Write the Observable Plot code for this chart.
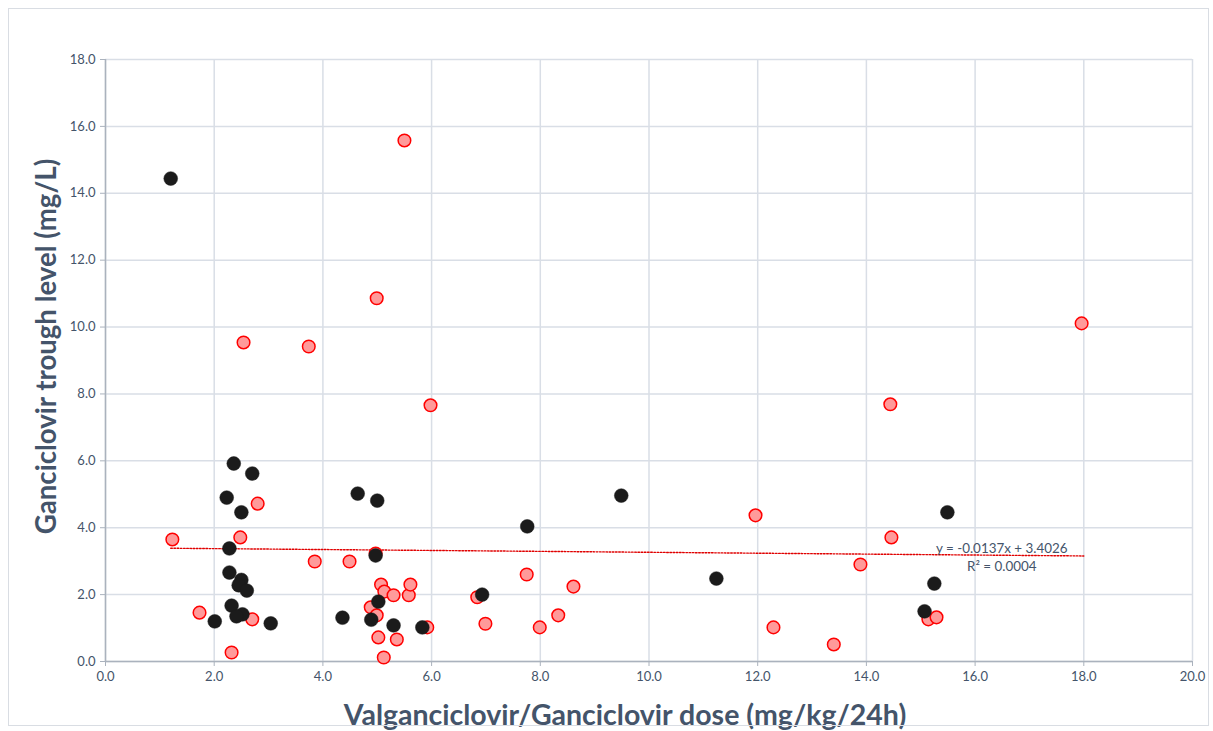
<!DOCTYPE html>
<html>
<head>
<meta charset="utf-8">
<script src="https://cdn.jsdelivr.net/npm/d3@7"></script>
<script src="https://cdn.jsdelivr.net/npm/@observablehq/plot@0.6"></script>
<style>
  html, body { margin: 0; padding: 0; background: #fff; }
  #wrap { position: relative; width: 1213px; height: 731px; overflow: hidden; }
  #border { position: absolute; left: 8px; top: 8px; width: 1201px; height: 718px; border: 1px solid #d9dde3; box-sizing: border-box; pointer-events: none; }
  #chart { position: absolute; left: 0; top: 0; }
</style>
</head>
<body>
<div id="wrap">
  <div id="chart"></div>
  <div id="border"></div>
</div>
<script>
// Group A (black markers)
const blackX = [1.20, 2.36, 2.70, 2.23, 2.50, 2.28, 2.28, 2.50, 2.45, 2.60, 2.32, 2.52, 2.41, 2.01, 3.04,
                4.36, 4.64, 5.00, 4.97, 5.02, 4.89, 5.30, 5.83, 6.93, 7.76, 9.49, 11.24, 15.49, 15.25, 15.07];
const blackY = [14.44, 5.92, 5.62, 4.90, 4.46, 3.38, 2.66, 2.44, 2.28, 2.12, 1.67, 1.41, 1.35, 1.20, 1.14,
                1.31, 5.02, 4.81, 3.17, 1.79, 1.25, 1.08, 1.02, 2.00, 4.04, 4.96, 2.48, 4.46, 2.33, 1.50];
// Group B (red markers)
const redX = [1.23, 1.73, 2.32, 2.48, 2.54, 2.70, 2.80, 3.74, 3.85, 4.49, 4.88, 4.97, 4.99, 4.99, 5.02, 5.07,
              5.12, 5.13, 5.30, 5.36, 5.50, 5.58, 5.61, 5.92, 5.98, 6.84, 6.99, 7.75, 7.99, 8.33, 8.61,
              11.96, 12.29, 13.40, 13.89, 14.44, 14.46, 15.14, 15.29, 17.96];
const redY = [3.65, 1.46, 0.27, 3.71, 9.54, 1.26, 4.72, 9.42, 2.99, 2.99, 1.62, 3.23, 10.86, 1.38, 0.72, 2.30,
              0.12, 2.09, 1.98, 0.66, 15.58, 1.98, 2.30, 1.02, 7.66, 1.92, 1.13, 2.60, 1.02, 1.38, 2.24,
              4.37, 1.02, 0.51, 2.90, 7.69, 3.71, 1.26, 1.32, 10.11];
// Linear trendline (from the chart's equation)
const trendSlope = -0.0137;
const trendIntercept = 3.4026;
const trendRange = [1.2, 18.0];
const xTicks = [0, 2, 4, 6, 8, 10, 12, 14, 16, 18, 20];
const yTicks = [0, 2, 4, 6, 8, 10, 12, 14, 16, 18];
const xTitle = "Valganciclovir/Ganciclovir dose (mg/kg/24h)";
const yTitle = "Ganciclovir trough level (mg/L)";
const eqLabel = "y = -0.0137x + 3.4026";
const r2Label = "R² = 0.0004";
const labelPos = { x: 16.49, yEq: 3.38, yR2: 2.84 };

const black = blackX.map((x, i) => ({x, y: blackY[i]}));
const red = redX.map((x, i) => ({x, y: redY[i]}));
const trend = trendRange.map(x => ({x, y: trendSlope * x + trendIntercept}));

const textColor = "#44546A";
const font = "Lato, 'Open Sans', sans-serif";

const chart = Plot.plot({
  width: 1213,
  height: 731,
  marginLeft: 105,
  marginRight: 21,
  marginTop: 59,
  marginBottom: 70,
  style: { fontFamily: font, background: "transparent", overflow: "visible" },
  x: { domain: [0, 20], ticks: xTicks, tickFormat: d => d.toFixed(1), label: null },
  y: { domain: [0, 18], ticks: yTicks, tickFormat: d => d.toFixed(1), label: null },
  marks: [
    Plot.gridX(xTicks, { stroke: "#d9dee6", strokeOpacity: 1, strokeWidth: 1.5 }),
    Plot.gridY(yTicks, { stroke: "#d9dee6", strokeOpacity: 1, strokeWidth: 1.5 }),
    Plot.ruleX([0], { stroke: "#aab2bd", strokeWidth: 1.5 }),
    Plot.ruleY([0], { stroke: "#aab2bd", strokeWidth: 1.5 }),
    Plot.axisX({ ticks: xTicks, tickFormat: d => d.toFixed(1), tickSize: 5, tickPadding: 5, stroke: "#aab2bd", fill: textColor, fontSize: 13, label: null }),
    Plot.axisY({ ticks: yTicks, tickFormat: d => d.toFixed(1), tickSize: 5, tickPadding: 5, stroke: "#aab2bd", fill: textColor, fontSize: 13, label: null }),
    Plot.line(trend, { x: "x", y: "y", stroke: "#e00000", strokeWidth: 1.4, strokeDasharray: "1.6,1.6" }),
    Plot.dot(red, { x: "x", y: "y", r: 6.3, fill: "#ff9a9a", stroke: "#ff0000", strokeWidth: 1.5 }),
    Plot.dot(black, { x: "x", y: "y", r: 6.9, fill: "#1b1b1b", stroke: "#1b1b1b", strokeWidth: 0.5 }),
    Plot.text([eqLabel], { x: labelPos.x, y: labelPos.yEq, fill: textColor, fontSize: 13.4, textAnchor: "middle" }),
    Plot.text([r2Label], { x: labelPos.x, y: labelPos.yR2, fill: textColor, fontSize: 13.4, textAnchor: "middle" }),
    Plot.text([xTitle], { frameAnchor: "bottom", lineAnchor: "middle", textAnchor: "middle", dx: -24, dy: 54, fill: textColor, fontSize: 28.5, fontWeight: "bold" }),
    Plot.text([yTitle], { frameAnchor: "left", lineAnchor: "middle", textAnchor: "middle", dx: -58, dy: -14, rotate: -90, fill: textColor, fontSize: 27.6, fontWeight: "bold" })
  ]
});
document.getElementById("chart").appendChild(chart);
</script>
</body>
</html>
